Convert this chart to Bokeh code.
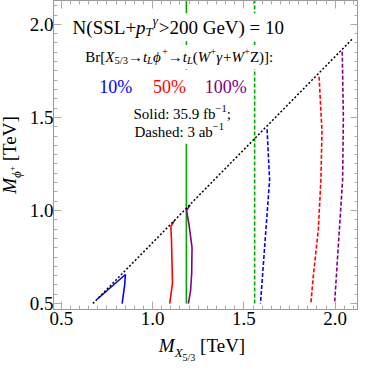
from bokeh.plotting import figure
from bokeh.models import Label, LinearAxis, SingleIntervalTicker, PrintfTickFormatter, Range1d, Div
from bokeh.layouts import row as brow, column as bcol
from bokeh.embed import file_html
from bokeh.resources import INLINE

# ---------------- data ----------------
x_range_tev = (0.457, 2.128)
y_range_tev = (0.468, 2.128)
tick_values = [0.5, 1.0, 1.5, 2.0]

# kinematic boundary (dotted)
diag_x = [0.673, 2.100]
diag_y = [0.500, 1.927]

# green: Br-independent limits
green_solid_x = [1.185, 1.185]
green_solid_y = [0.50, 2.20]
green_dash_x = [1.559, 1.559]
green_dash_y = [0.50, 2.20]

# 35.9 fb^-1 (solid)
blue_solid_x = [0.696, 0.851, 0.847, 0.833]
blue_solid_y = [0.523, 0.656, 0.600, 0.500]
red_solid_x = [1.121, 1.100, 1.103, 1.105, 1.109, 1.094]
red_solid_y = [0.948, 0.913, 0.850, 0.771, 0.612, 0.500]
purple_solid_x = [1.206, 1.186, 1.200, 1.216, 1.214, 1.208, 1.196]
purple_solid_y = [1.030, 1.000, 0.920, 0.800, 0.660, 0.570, 0.500]

# 3 ab^-1 (dashed)
blue_dash_x = [1.627, 1.641, 1.621, 1.601, 1.591]
blue_dash_y = [1.436, 1.165, 0.900, 0.633, 0.500]
red_dash_x = [1.912, 1.928, 1.922, 1.908, 1.879, 1.867]
red_dash_y = [1.718, 1.426, 1.165, 0.899, 0.633, 0.500]
purple_dash_x = [2.039, 2.045, 2.041, 2.018, 1.997]
purple_dash_y = [1.853, 1.500, 1.165, 0.818, 0.500]

br_labels = ["10%", "50%", "100%"]
br_colors = ["#0000ff", "#ff0000", "#800080"]
green = "#00a800"

FONT = "Liberation Serif"
PHI = "\u03d5"

REG = {' ': .25, '(': .333, ')': .333, '+': .564, '=': .564, '>': .564, '[': .333, ']': .333,
       ':': .278, ';': .278, '.': .25, '/': .278, '%': .833, '\u2212': .564,
       'A': .722, 'B': .667, 'D': .722, 'G': .722, 'L': .611, 'N': .722, 'S': .556, 'T': .611,
       'V': .722, 'W': .944, 'Z': .611, 'a': .444, 'b': .5, 'd': .5, 'e': .444, 'f': .333,
       'h': .5, 'i': .278, 'l': .278, 'o': .5, 'r': .333, 's': .389, 't': .278, 'p': .5,
       '\u03b3': .45, PHI: .6, '\u2192': 1.0}
ITAL = {'M': .833, 'X': .611, 'T': .556, 'L': .556, 'W': .833, 'p': .5, 't': .278,
        '\u03b3': .45, PHI: .6}


def tw(s, size, italic):
    tab = ITAL if italic else REG
    return sum(tab.get(c, REG.get(c, .5)) for c in s) * size


p = figure(width=332, height=333,
           x_range=Range1d(*x_range_tev), y_range=Range1d(*y_range_tev),
           output_backend="svg", toolbar_location=None,
           x_axis_type=None, y_axis_type=None,
           min_border_left=24, min_border_right=0, min_border_top=0, min_border_bottom=24)
p.outline_line_color = "#999999"
p.background_fill_color = "white"


def make_axis(show_labels, standoff):
    ax = LinearAxis(ticker=SingleIntervalTicker(interval=0.5, num_minor_ticks=10),
                    formatter=PrintfTickFormatter(format="%.1f"))
    ax.axis_line_color = "#999999"
    ax.major_tick_line_color = "#aaaaaa"
    ax.minor_tick_line_color = "#aaaaaa"
    ax.major_tick_in = 8
    ax.major_tick_out = 0
    ax.minor_tick_in = 4
    ax.minor_tick_out = 0
    ax.major_label_text_font = FONT
    ax.major_label_text_color = "black"
    ax.major_label_text_font_size = "19px"
    ax.major_label_standoff = standoff
    if not show_labels:
        ax.major_label_overrides = {v: "" for v in tick_values}
    return ax


p.add_layout(make_axis(True, 2), "below")
p.add_layout(make_axis(True, 0), "left")
p.add_layout(make_axis(False, 0), "above")
p.add_layout(make_axis(False, 0), "right")

# lines
p.line(green_solid_x, green_solid_y, line_color=green, line_width=1.6)
p.line(green_dash_x, green_dash_y, line_color=green, line_width=1.6, line_dash="4 2")
p.line(blue_solid_x, blue_solid_y, line_color=br_colors[0], line_width=1.6)
p.line(red_solid_x, red_solid_y, line_color=br_colors[1], line_width=1.6)
p.line(purple_solid_x, purple_solid_y, line_color=br_colors[2], line_width=1.6)
p.line(blue_dash_x, blue_dash_y, line_color=br_colors[0], line_width=1.6, line_dash="4 2")
p.line(red_dash_x, red_dash_y, line_color=br_colors[1], line_width=1.6, line_dash="4 2")
p.line(purple_dash_x, purple_dash_y, line_color=br_colors[2], line_width=1.6, line_dash="4 2")
p.line(diag_x, diag_y, line_color="black", line_width=1.5, line_dash="2 2")


def bg(cx, cy, text, size, pad):
    p.add_layout(Label(x=cx, y=cy, text=text, text_font=FONT, text_font_size=f"{size}px",
                       text_align="center", text_baseline="alphabetic", text_color="white",
                       background_fill_color="white",
                       padding=dict(left=pad[0], right=pad[1], top=pad[2], bottom=pad[3])))


def row(cx, cy, runs, color="black"):
    total = sum(tw(t, s, it) for t, s, it, dy in runs)
    off = -total / 2
    for t, s, it, dy in runs:
        p.add_layout(Label(x=cx, y=cy, x_offset=off, y_offset=dy, text=t,
                           text_font=FONT, text_font_size=f"{s}px",
                           text_font_style="italic" if it else "normal",
                           text_color=color, text_align="left", text_baseline="alphabetic"))
        off += tw(t, s, it)


# title
bg(1.141, 1.984, "N(SSL+pT\u03b3>200 GeV) = 10", 19, (0, 0, 0, 7))
row(1.141, 1.984, [("N(SSL+", 19, False, 0), ("p", 19, True, 0), ("T", 13, True, -4),
                   ("\u03b3", 13, True, 7), (">200 GeV) = 10", 19, False, 0)])
# Br line
bg(1.146, 1.824, "Br[X5/3\u2192tL" + PHI + "+\u2192tL(W+\u03b3+W+Z)]:", 15, (0, 0, 7, 1))
row(1.146, 1.824, [("Br[", 15, False, 0), ("X", 15, True, 0), ("5/3", 10.5, False, -3.5),
                   ("\u2192", 15, False, 0), ("t", 15, True, 0), ("L", 10.5, True, -3.5),
                   (PHI, 15, True, 0), ("+", 10.5, False, 5.5), ("\u2192", 15, False, 0),
                   ("t", 15, True, 0), ("L", 10.5, True, -3.5), ("(", 15, False, 0),
                   ("W", 15, True, 0), ("+", 10.5, False, 5.5), ("\u03b3", 15, True, 0),
                   ("+", 15, False, 0), ("W", 15, True, 0), ("+", 10.5, False, 5.5),
                   ("Z", 15, False, 0), (")]:", 15, False, 0)])
# percentages
bg(1.098, 1.665, "10%     50%    100%", 18, (2, 2, 8, 6))
for xs, txt, col in zip([0.708, 1.002, 1.285], br_labels, br_colors):
    p.add_layout(Label(x=xs, y=1.665, text=txt, text_font=FONT, text_font_size="18px",
                       text_color=col, text_align="left", text_baseline="alphabetic"))
# luminosities
bg(1.162, 1.516, "Solid: 35.9 fb\u22121;", 15, (0, 0, 6, 2))
row(1.162, 1.516, [("Solid: 35.9 fb", 15, False, 0), ("\u22121", 10.5, False, 6), (";", 15, False, 0)])
bg(1.146, 1.420, "Dashed: 3 ab\u22121", 15, (0, 0, 2, 5))
row(1.146, 1.420, [("Dashed: 3 ab", 15, False, 0), ("\u22121", 10.5, False, 6)])

# axis titles as HTML text next to the figure
font_css = "font-family:'Liberation Serif',serif;color:black;"
xlab_html = (f'<div style="{font_css}font-size:19px;line-height:16px;width:300px;'
             f'margin-left:26px;margin-top:5px;text-align:center;white-space:nowrap;">'
             f'<i>M</i><sub style="font-size:13px;line-height:0;"><i>X</i>'
             f'<sub style="font-size:10px;line-height:0;">5/3</sub></sub>&nbsp;[TeV]</div>')
ylab_html = (f'<div style="width:20px;height:309px;display:flex;align-items:center;'
             f'justify-content:center;margin-left:0px;">'
             f'<span style="{font_css}font-size:19px;line-height:16px;display:inline-block;'
             f'transform:rotate(-90deg);white-space:nowrap;">'
             f'<i>M</i><sub style="font-size:13px;line-height:0;"><i>{PHI}</i>'
             f'<sup style="font-size:9px;line-height:0;">+</sup></sub>&nbsp;[TeV]</span></div>')
xdiv = Div(text=xlab_html, width=332, height=23, margin=0)
ydiv = Div(text=ylab_html, width=26, height=356, margin=0)

layout = brow(ydiv, bcol(p, xdiv, spacing=0), spacing=0)

open("out.html", "w").write(file_html(layout, INLINE))
